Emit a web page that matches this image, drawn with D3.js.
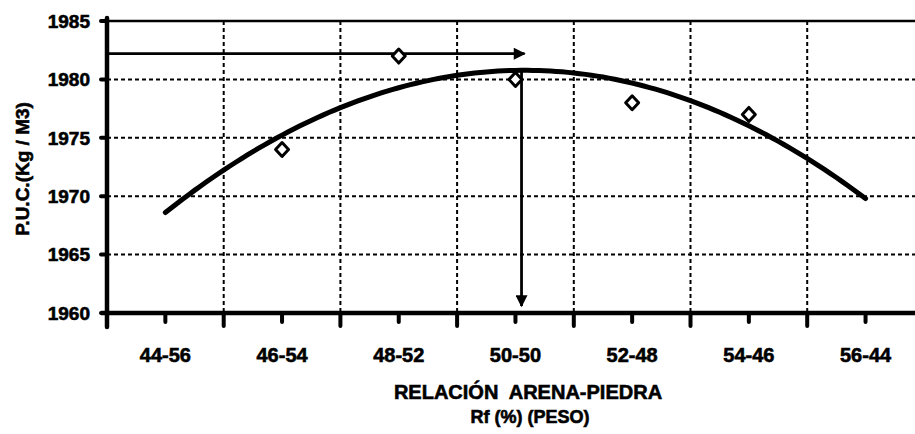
<!DOCTYPE html>
<html>
<head>
<meta charset="utf-8">
<script src="https://cdnjs.cloudflare.com/ajax/libs/d3/7.8.5/d3.min.js"></script>
<style>
  html, body { margin: 0; padding: 0; background: #fff; }
  svg { display: block; }
  text { font-family: "Liberation Sans", Arial, sans-serif; font-weight: bold; fill: #000; stroke: #000; stroke-width: 0.6px; }
</style>
</head>
<body>
<svg id="chart" width="915" height="434"></svg>
<script>
  // categories on the x axis (arena-piedra ratio)
  const categories = ['44-56', '46-54', '48-52', '50-50', '52-48', '54-46', '56-44'];
  // measured points (P.U.C.)
  const pointCats = ['46-54', '48-52', '50-50', '52-48', '54-46'];
  const pointVals = [1974, 1982, 1980, 1978, 1977];
  const yTicks = [1960, 1965, 1970, 1975, 1980, 1985];
  // level of the horizontal arrow
  const arrowLevel = 1982.2;

  const svg = d3.select('#chart');
  const W = 915;
  const plotLeft = 107, plotTop = 21, plotBottom = 313;
  const band = 116.7;

  const x = d3.scaleBand()
    .domain(categories)
    .range([plotLeft, plotLeft + band * categories.length])
    .padding(0);
  const y = d3.scaleLinear()
    .domain([1960, 1985])
    .range([plotBottom, plotTop]);

  // x value (as category index) -> pixel
  const xi = i => plotLeft + band * (i + 0.5);

  // quadratic least squares trend line over the points
  const idx = pointCats.map(c => categories.indexOf(c));
  const fit = (() => {
    const s = [0, 0, 0, 0, 0], sy = [0, 0, 0];
    idx.forEach((t, k) => {
      for (let p = 0; p < 5; p++) s[p] += Math.pow(t, p);
      for (let p = 0; p < 3; p++) sy[p] += Math.pow(t, p) * pointVals[k];
    });
    // solve 3x3 normal equations
    const A = [[s[0], s[1], s[2], sy[0]], [s[1], s[2], s[3], sy[1]], [s[2], s[3], s[4], sy[2]]];
    for (let i = 0; i < 3; i++) {
      for (let j = i + 1; j < 3; j++) {
        const f = A[j][i] / A[i][i];
        for (let k = i; k < 4; k++) A[j][k] -= f * A[i][k];
      }
    }
    const c = [0, 0, 0];
    for (let i = 2; i >= 0; i--) {
      let v = A[i][3];
      for (let k = i + 1; k < 3; k++) v -= A[i][k] * c[k];
      c[i] = v / A[i][i];
    }
    return c;
  })();
  const trend = t => fit[0] + fit[1] * t + fit[2] * t * t;
  const peakT = -fit[1] / (2 * fit[2]);

  // horizontal grid
  svg.append('g')
    .selectAll('line')
    .data(yTicks.filter(v => v > 1960 && v < 1985))
    .join('line')
    .attr('x1', plotLeft).attr('x2', W)
    .attr('y1', d => y(d)).attr('y2', d => y(d))
    .attr('stroke', '#000')
    .attr('stroke-width', 2)
    .attr('stroke-dasharray', '4,3');

  // vertical grid at band boundaries
  const bounds = categories.slice(1).map(c => x(c));
  svg.append('g')
    .selectAll('line')
    .data(bounds)
    .join('line')
    .attr('x1', d => d).attr('x2', d => d)
    .attr('y1', plotTop).attr('y2', plotBottom)
    .attr('stroke', '#000')
    .attr('stroke-width', 2)
    .attr('stroke-dasharray', '4,3');

  // top border
  svg.append('line')
    .attr('x1', plotLeft).attr('x2', W)
    .attr('y1', y(1985)).attr('y2', y(1985))
    .attr('stroke', '#000').attr('stroke-width', 2.4);

  // trend curve
  const tSamples = d3.range(0, 6.0001, 0.05);
  svg.append('path')
    .datum(tSamples)
    .attr('d', d3.line().x(t => xi(t)).y(t => y(trend(t))))
    .attr('fill', 'none')
    .attr('stroke', '#000')
    .attr('stroke-width', 5)
    .attr('stroke-linecap', 'round');

  // arrows
  const defs = svg.append('defs');
  defs.append('marker')
    .attr('id', 'arrow')
    .attr('viewBox', '0 0 10 10')
    .attr('refX', 9).attr('refY', 5)
    .attr('markerWidth', 14).attr('markerHeight', 12)
    .attr('markerUnits', 'userSpaceOnUse')
    .attr('orient', 'auto')
    .append('path')
    .attr('d', 'M0,0L10,5L0,10Z')
    .attr('fill', '#000');

  const peakX = xi(peakT);
  svg.append('line')
    .attr('x1', plotLeft).attr('x2', peakX)
    .attr('y1', y(arrowLevel)).attr('y2', y(arrowLevel))
    .attr('stroke', '#000').attr('stroke-width', 2.8)
    .attr('marker-end', 'url(#arrow)');
  svg.append('line')
    .attr('x1', peakX - 3).attr('x2', peakX - 3)
    .attr('y1', y(trend(peakT))).attr('y2', plotBottom - 7)
    .attr('stroke', '#000').attr('stroke-width', 2.8)
    .attr('marker-end', 'url(#arrow)');

  // diamonds
  svg.append('g')
    .selectAll('path')
    .data(pointCats.map((c, i) => ({ c, v: pointVals[i] })))
    .join('path')
    .attr('transform', d => `translate(${x(d.c) + band / 2},${y(d.v)})`)
    .attr('d', 'M0,-7L6.5,0L0,7L-6.5,0Z')
    .attr('fill', '#fff')
    .attr('stroke', '#000')
    .attr('stroke-width', 3)
    .attr('stroke-linejoin', 'round');

  // y axis
  svg.append('line')
    .attr('x1', plotLeft).attr('x2', plotLeft)
    .attr('y1', plotTop - 3).attr('y2', plotBottom + 14)
    .attr('stroke', '#000').attr('stroke-width', 4.5)
    .attr('stroke-linecap', 'round');
  svg.append('g')
    .selectAll('line')
    .data(yTicks)
    .join('line')
    .attr('x1', plotLeft - 6).attr('x2', plotLeft)
    .attr('y1', d => y(d)).attr('y2', d => y(d))
    .attr('stroke', '#000').attr('stroke-width', 4)
    .attr('stroke-linecap', 'round');
  svg.append('g')
    .selectAll('text')
    .data(yTicks)
    .join('text')
    .attr('x', plotLeft - 17)
    .attr('y', d => y(d))
    .attr('dy', '0.36em')
    .attr('text-anchor', 'end')
    .style('font-size', '19px')
    .text(d => d);

  // x axis
  svg.append('line')
    .attr('x1', plotLeft - 6).attr('x2', W)
    .attr('y1', plotBottom).attr('y2', plotBottom)
    .attr('stroke', '#000').attr('stroke-width', 4.5);
  svg.append('g')
    .selectAll('line')
    .data(bounds)
    .join('line')
    .attr('x1', d => d).attr('x2', d => d)
    .attr('y1', plotBottom).attr('y2', plotBottom + 13)
    .attr('stroke', '#000').attr('stroke-width', 4)
    .attr('stroke-linecap', 'round');
  svg.append('g')
    .selectAll('line')
    .data(categories)
    .join('line')
    .attr('x1', d => x(d) + band / 2).attr('x2', d => x(d) + band / 2)
    .attr('y1', plotBottom).attr('y2', plotBottom + 9)
    .attr('stroke', '#000').attr('stroke-width', 4)
    .attr('stroke-linecap', 'round');
  svg.append('g')
    .selectAll('text')
    .data(categories)
    .join('text')
    .attr('x', d => x(d) + band / 2)
    .attr('y', 362)
    .attr('text-anchor', 'middle')
    .style('font-size', '20px')
    .text(d => d);

  // axis titles
  svg.append('text')
    .attr('x', 528).attr('y', 399)
    .attr('text-anchor', 'middle')
    .style('font-size', '20px')
    .style('white-space', 'pre')
    .text('RELACIÓN  ARENA-PIEDRA');
  svg.append('text')
    .attr('x', 530).attr('y', 423)
    .attr('text-anchor', 'middle')
    .style('font-size', '18px')
    .text('Rf (%) (PESO)');
  svg.append('text')
    .attr('transform', 'translate(29,169) rotate(-90)')
    .attr('text-anchor', 'middle')
    .style('font-size', '19px')
    .text('P.U.C.(Kg / M3)');
</script>
</body>
</html>
